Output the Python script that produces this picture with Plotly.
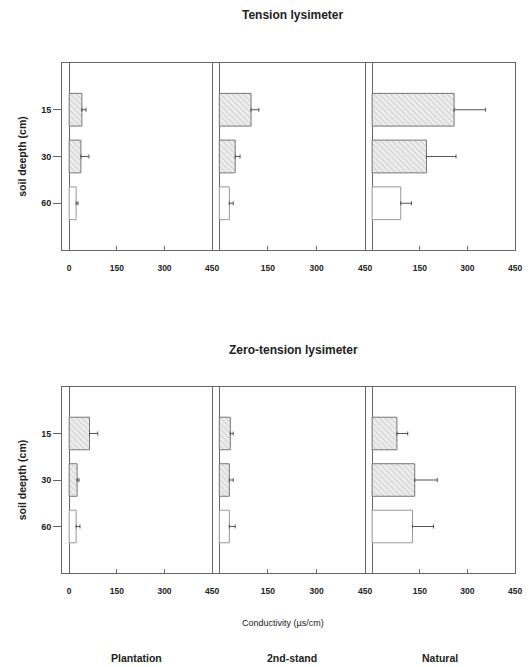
import plotly.graph_objects as go

depths = ["15", "30", "60"]
sites = ["Plantation", "2nd-stand", "Natural"]
x_ticks = [0, 150, 300, 450]

# Tension lysimeter: means and (upper) standard errors, µS/cm
tension_plantation = [40, 37, 22]
tension_plantation_err = [13, 25, 6]
tension_2nd = [98, 49, 31]
tension_2nd_err = [24, 15, 12]
tension_natural = [258, 171, 90]
tension_natural_err = [99, 93, 34]

# Zero-tension lysimeter
zero_plantation = [64, 25, 22]
zero_plantation_err = [26, 6, 12]
zero_2nd = [34, 31, 31]
zero_2nd_err = [9, 12, 18]
zero_natural = [78, 134, 127]
zero_natural_err = [34, 71, 66]

W, H = 532, 667
x_dom = [(63 / W, 215 / W), (215 / W, 370 / W), (370 / W, 522 / W)]
y_dom_top = (1 - 250 / H, 1 - 63 / H)
y_dom_bot = (1 - 573 / H, 1 - 387 / H)

FONT = "Liberation Sans"
LINE = "#666666"
TXT = "#222222"

fig = go.Figure()

panels = [
    (tension_plantation, tension_plantation_err, 0, 0),
    (tension_2nd, tension_2nd_err, 1, 0),
    (tension_natural, tension_natural_err, 2, 0),
    (zero_plantation, zero_plantation_err, 0, 1),
    (zero_2nd, zero_2nd_err, 1, 1),
    (zero_natural, zero_natural_err, 2, 1),
]

ypos = [0, 1, 2]
layout_axes = {}
for k, (vals, errs, col, row) in enumerate(panels):
    idx = k + 1
    xa = "x" if idx == 1 else f"x{idx}"
    ya = "y" if idx == 1 else f"y{idx}"
    for j in range(3):
        hatched = j < 2
        fig.add_trace(go.Bar(
            x=[vals[j]], y=[ypos[j]], orientation="h", xaxis=xa, yaxis=ya,
            width=0.7, showlegend=False,
            marker=dict(
                color="#eeeeee" if hatched else "white",
                line=dict(color="#777777" if hatched else "#999999", width=1),
                pattern=dict(shape="\\" if hatched else "", fgcolor="#aaaaaa",
                             bgcolor="#eeeeee", size=4, solidity=0.25),
            ),
            error_x=dict(type="data", array=[errs[j]], arrayminus=[0],
                         symmetric=False, color="#555555", thickness=1, width=2),
        ))
    xkey = "xaxis" if idx == 1 else f"xaxis{idx}"
    ykey = "yaxis" if idx == 1 else f"yaxis{idx}"
    ydom = y_dom_top if row == 0 else y_dom_bot
    tv = x_ticks if col == 0 else x_ticks[1:]
    layout_axes[xkey] = dict(
        domain=list(x_dom[col]), anchor=ya, range=[-22, 450],
        tickvals=tv, ticktext=[str(v) for v in tv],
        ticks="inside", ticklen=4, tickcolor=LINE, ticklabelstandoff=10,
        showline=True, linecolor=LINE, linewidth=1, mirror=True,
        zeroline=True, zerolinecolor=LINE, zerolinewidth=1,
        showgrid=False, fixedrange=True,
        tickfont=dict(family=FONT, size=8.5, color=TXT, weight="bold"),
    )
    if col == 0:
        layout_axes[ykey] = dict(
            domain=list(ydom), anchor=xa, range=[3, -1],
            tickvals=ypos, ticktext=depths,
            ticks="outside", ticklen=8, tickcolor=LINE,
            showline=True, linecolor=LINE, linewidth=1, mirror=True,
            showgrid=False, zeroline=False, fixedrange=True,
            tickfont=dict(family=FONT, size=9, color=TXT, weight="bold"),
            title=dict(text="soil deepth (cm)",
                       font=dict(family=FONT, size=10.5, color=TXT, weight="bold"),
                       standoff=12),
        )
    else:
        layout_axes[ykey] = dict(
            domain=list(ydom), anchor=xa, range=[3, -1], side="right",
            showticklabels=False, ticks="",
            showline=True, linecolor=LINE, linewidth=1, mirror=False,
            showgrid=False, zeroline=False, fixedrange=True,
        )

annotations = [
    dict(text="<b>Tension lysimeter</b>", x=296 / W, y=1 - 15 / H, size=12),
    dict(text="<b>Zero-tension lysimeter</b>", x=297 / W, y=1 - 350 / H, size=12),
    dict(text="Conductivity (µs/cm)", x=287 / W, y=1 - 623 / H, size=9),
    dict(text="<b>Plantation</b>", x=138 / W, y=1 - 658 / H, size=10.5),
    dict(text="<b>2nd-stand</b>", x=296 / W, y=1 - 658 / H, size=10.5),
    dict(text="<b>Natural</b>", x=446 / W, y=1 - 658 / H, size=10.5),
]
ann = []
for a in annotations:
    ann.append(dict(
        text=a["text"], x=a["x"], y=a["y"], xref="paper", yref="paper",
        xanchor="center", yanchor="middle", showarrow=False,
        font=dict(family=FONT, size=a["size"], color=TXT),
    ))

fig.update_layout(
    width=W, height=H, margin=dict(l=0, r=0, t=0, b=0),
    paper_bgcolor="white", plot_bgcolor="white",
    barmode="overlay", annotations=ann, **layout_axes,
)

fig.write_html("out.html", config={"displayModeBar": False},
               post_script="document.body.style.margin='0';")
